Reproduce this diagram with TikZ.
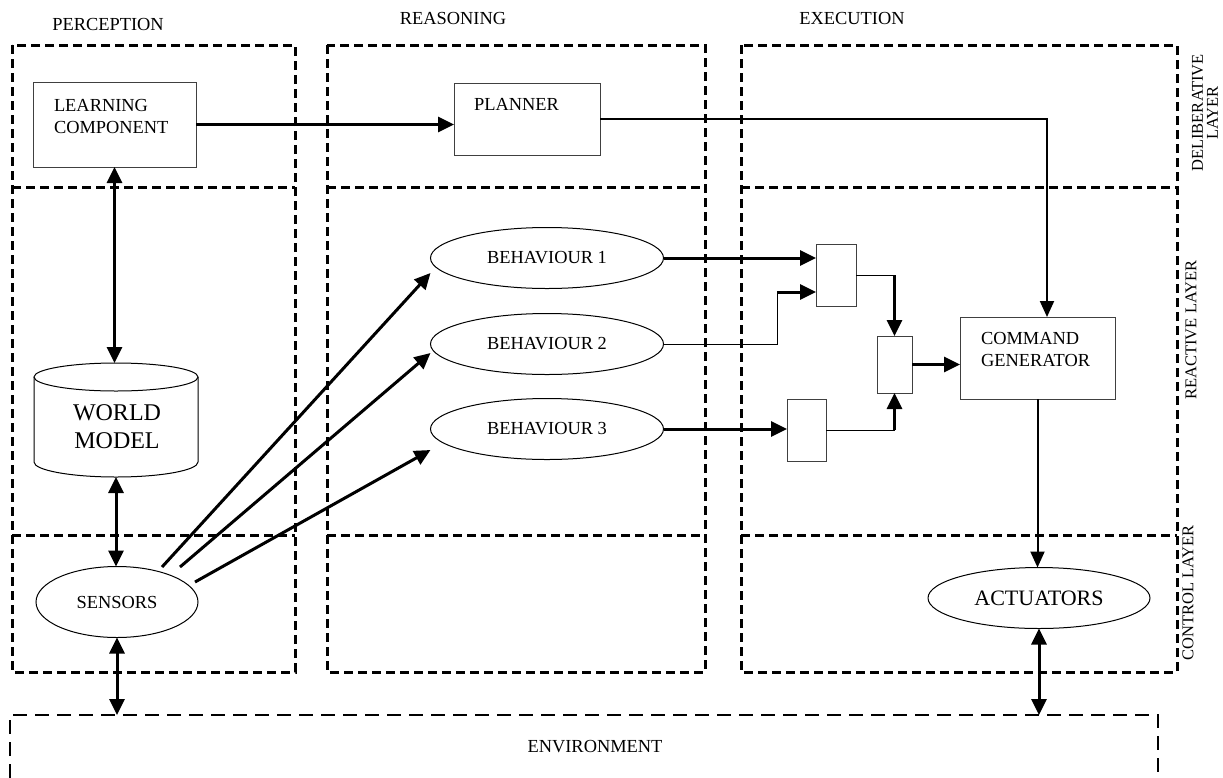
\documentclass[tikz,border=0pt]{standalone}
\usepackage{fontspec}
\setmainfont{Liberation Serif}
\usetikzlibrary{arrows.meta,calc,shapes.geometric}
\newcommand\fsnorm{\fontsize{18.4}{22}\selectfont}
\newcommand\fsbig{\fontsize{24}{28}\selectfont}
\newcommand\fsact{\fontsize{22}{26}\selectfont}
\newcommand\fsside{\fontsize{16.5}{15}\selectfont}
\begin{document}
\begin{tikzpicture}[x=1pt,y=-1pt,
  every node/.style={font=\fsnorm, inner sep=0pt, outer sep=0pt},
  layerbox/.style={line width=3pt, dash pattern=on 9pt off 5pt},
  envbox/.style={line width=2.5pt, dash pattern=on 14pt off 8pt},
  boxnode/.style={draw=black!75, line width=1pt, rectangle},
  ellnode/.style={draw, line width=1pt, ellipse},
  sidelabel/.style={font=\fsside, rotate=90, align=center},
  arr/.style={line width=3pt, -{Triangle[length=16pt,width=15pt]}},
  darr/.style={line width=3pt, {Triangle[length=16pt,width=15pt]}-{Triangle[length=16pt,width=15pt]}},
  medarr/.style={line width=2pt, -{Triangle[length=16pt,width=14pt]}},
  conn/.style={line width=1pt}
]
\useasboundingbox (0,0) rectangle (1223,777);

% layer / column frames
\foreach \xa/\xb in {12/295, 327/705, 741/1177} {
  \draw[layerbox] (\xa,45) rectangle (\xb,672);
  \draw[layerbox] (\xa,187) -- (\xb,187);
  \draw[layerbox] (\xa,535) -- (\xb,535);
}

% column labels
\node (perc) at (108,24) {PERCEPTION};
\node (reas) at (453,18) {REASONING};
\node (exec) at (852,18) {EXECUTION};

% layer labels
\node[sidelabel] (delib) at (1205,113) {DELIBERATIVE\\LAYER};
\node[sidelabel] (react) at (1191,330) {REACTIVE LAYER};
\node[sidelabel] (ctrl) at (1188,593) {CONTROL LAYER};

% learning component & planner
\node[boxnode, minimum width=163pt, minimum height=85pt] (lc) at (114.5,124.5) {};
\node[anchor=west, align=left] (lct) at (54,116) {LEARNING\\COMPONENT};
\node[boxnode, minimum width=146pt, minimum height=72pt] (pl) at (527,119) {};
\node (plt) at (516.5,104) {PLANNER};

% world model cylinder
\node[minimum width=164pt, minimum height=114pt] (wm) at (116,420) {};
\draw[line width=1pt] (116,377) ellipse[x radius=82, y radius=14];
\draw[line width=1pt] (34,377) -- (34,462) arc[start angle=180, end angle=0, x radius=82, y radius=15] -- (198,377);
\node[font=\fsbig, align=center] (wmt) at (117,427) {WORLD\\MODEL};

% sensors
\node[ellnode, minimum width=162pt, minimum height=71pt] (sens) at (117,602) {SENSORS};

% behaviours
\node[ellnode, minimum width=233pt, minimum height=61pt] (b1) at (547,258) {BEHAVIOUR 1};
\node[ellnode, minimum width=233pt, minimum height=61pt] (b2) at (547,344) {BEHAVIOUR 2};
\node[ellnode, minimum width=233pt, minimum height=61pt] (b3) at (547,429) {BEHAVIOUR 3};

% switches
\node[boxnode, minimum width=40pt, minimum height=62pt] (swA) at (836,275) {};
\node[boxnode, minimum width=35pt, minimum height=57pt] (swB) at (894.5,364.5) {};
\node[boxnode, minimum width=39pt, minimum height=62pt] (swC) at (806.5,430) {};

% command generator & actuators
\node[boxnode, minimum width=155pt, minimum height=82pt] (cg) at (1037.5,358) {};
\node[anchor=west, align=left] (cgt) at (981,349) {COMMAND\\GENERATOR};
\node[ellnode, minimum width=222pt, minimum height=61pt, font=\fsact] (act) at (1039,598) {ACTUATORS};

% environment
\coordinate (envnw) at (10,715);
\coordinate (envne) at (1158,715);
\draw[envbox] (10,800) -- (envnw) -- (envne) -- (1158,800);
\node (envt) at (595,747) {ENVIRONMENT};

% connectors
\draw[darr] (lc.south) -- (lc.south |- wm.north);
\draw[darr] (wm.south) -- (wm.south |- sens.north);
\draw[darr] (sens.south) -- (sens.south |- envnw);
\draw[arr] (lc.east) -- (lc.east -| pl.west);
\draw[medarr] (pl.east) -| ($(cg.north)+(9.5,0)$);

\draw[arr] ($(sens.center)+(45,-35)$) -- ($(b1.west)+(0,15)$);
\draw[arr] ($(sens.center)+(63,-35)$) -- ($(b2.west)+(0,9)$);
\draw[arr] ($(sens.center)+(78,-20)$) -- ($(b3.west)+(0,21)$);

\draw[arr] (b1.east) -- (b1.east -| swA.west);
\coordinate (j2) at (777,292);
\draw[conn] (b2.east) -| (j2);
\draw[arr] (j2) -- (j2 -| swA.west);
\draw[conn] (swA.east) -- (swA.east -| swB.north);
\draw[arr] (swA.east -| swB.north) -- (swB.north);
\draw[arr] (swB.east) -- (swB.east -| cg.west);
\draw[arr] (b3.east) -- (b3.east -| swC.west);
\draw[conn] (swC.east) -- (swC.east -| swB.south);
\draw[arr] (swC.east -| swB.south) -- (swB.south);
\draw[medarr] (cg.south) -- (cg.south |- act.north);
\draw[darr] (act.south) -- (act.south |- envnw);
\end{tikzpicture}
\end{document}
